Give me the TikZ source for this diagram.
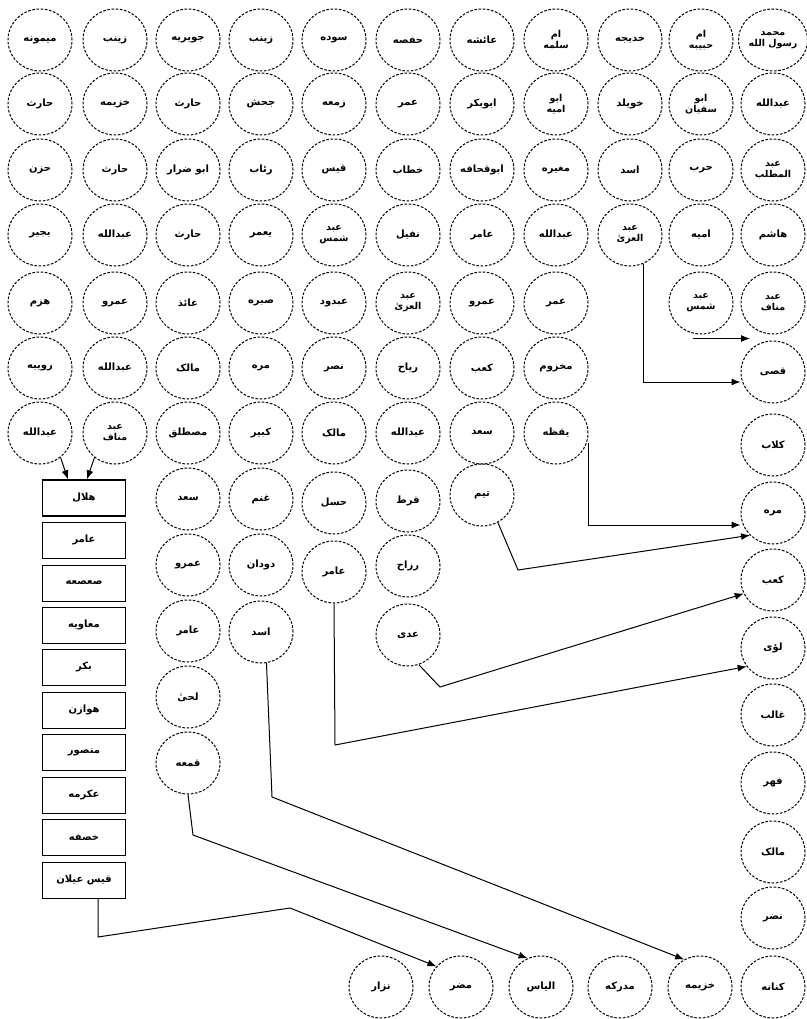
\documentclass[tikz,border=0pt]{standalone}
\usepackage{fontspec}
\newfontfamily\arabicfont[Script=Arabic]{DejaVu Sans}
\TeXXeTstate=1
\usetikzlibrary{shapes.geometric,arrows.meta}
\newcommand{\ur}[1]{{\arabicfont\bfseries\beginR #1\endR}}
\begin{document}
\begin{tikzpicture}[x=1pt,y=-1pt,
  circ/.style={ellipse,draw,dash pattern=on 2.6pt off 1.6pt,line width=1pt,minimum width=64pt,minimum height=62pt,inner sep=0pt,align=center,font=\fontsize{10}{11}\selectfont},
  twol/.style={font=\fontsize{9.5}{11}\selectfont},
  box/.style={rectangle,draw,line width=1pt,minimum width=83pt,minimum height=36pt,inner sep=0pt,font=\fontsize{10}{11}\selectfont},
  arr/.style={line width=1pt,-{Latex[length=9pt,width=7pt]}},
]
\useasboundingbox (0,0) rectangle (806,1019);
\fill[white] (0,0) rectangle (806,1019);
% row 1
\node[circ,twol] (r1c11) at (773,40) {\ur{محمد}\\\ur{رسول الله}};
\node[circ,twol] (r1c10) at (701,40) {\ur{ام}\\\ur{حبیبه}};
\node[circ] (r1c9) at (630,40) {\ur{خدیجه}};
\node[circ,twol] (r1c8) at (556,40) {\ur{ام}\\\ur{سلمه}};
\node[circ] (r1c7) at (482,40) {\ur{عائشه}};
\node[circ] (r1c6) at (408,40) {\ur{حفصه}};
\node[circ] (r1c5) at (334,40) {\ur{سوده}};
\node[circ] (r1c4) at (261,40) {\ur{زینب}};
\node[circ] (r1c3) at (188,40) {\ur{جویریه}};
\node[circ] (r1c2) at (115,40) {\ur{زینب}};
\node[circ] (r1c1) at (40,40) {\ur{میمونه}};
% row 2
\node[circ] (r2c11) at (773,104) {\ur{عبدالله}};
\node[circ,twol] (r2c10) at (701,104) {\ur{ابو}\\\ur{سفیان}};
\node[circ] (r2c9) at (630,104) {\ur{خویلد}};
\node[circ,twol] (r2c8) at (556,104) {\ur{ابو}\\\ur{امیه}};
\node[circ] (r2c7) at (482,104) {\ur{ابوبکر}};
\node[circ] (r2c6) at (408,104) {\ur{عمر}};
\node[circ] (r2c5) at (334,104) {\ur{زمعه}};
\node[circ] (r2c4) at (261,104) {\ur{جحش}};
\node[circ] (r2c3) at (188,104) {\ur{حارث}};
\node[circ] (r2c2) at (115,104) {\ur{خزیمه}};
\node[circ] (r2c1) at (40,104) {\ur{حارث}};
% row 3
\node[circ,twol] (r3c11) at (773,170) {\ur{عبد}\\\ur{المطلب}};
\node[circ] (r3c10) at (701,170) {\ur{حرب}};
\node[circ] (r3c9) at (630,170) {\ur{اسد}};
\node[circ] (r3c8) at (556,170) {\ur{مغیره}};
\node[circ] (r3c7) at (482,170) {\ur{ابوقحافه}};
\node[circ] (r3c6) at (408,170) {\ur{خطاب}};
\node[circ] (r3c5) at (334,170) {\ur{قیس}};
\node[circ] (r3c4) at (261,170) {\ur{رئاب}};
\node[circ] (r3c3) at (188,170) {\ur{ابو ضرار}};
\node[circ] (r3c2) at (115,170) {\ur{حارث}};
\node[circ] (r3c1) at (40,170) {\ur{حزن}};
% row 4
\node[circ] (r4c11) at (773,235) {\ur{هاشم}};
\node[circ] (r4c10) at (701,235) {\ur{امیه}};
\node[circ,twol] (r4c9) at (630,235) {\ur{عبد}\\\ur{العزیٰ}};
\node[circ] (r4c8) at (556,235) {\ur{عبدالله}};
\node[circ] (r4c7) at (482,235) {\ur{عامر}};
\node[circ] (r4c6) at (408,235) {\ur{نفیل}};
\node[circ,twol] (r4c5) at (334,235) {\ur{عبد}\\\ur{شمس}};
\node[circ] (r4c4) at (261,235) {\ur{یعمر}};
\node[circ] (r4c3) at (188,235) {\ur{حارث}};
\node[circ] (r4c2) at (115,235) {\ur{عبدالله}};
\node[circ] (r4c1) at (40,235) {\ur{بجیر}};
% row 5
\node[circ,twol] (r5c11) at (773,303) {\ur{عبد}\\\ur{مناف}};
\node[circ,twol] (r5c10) at (701,303) {\ur{عبد}\\\ur{شمس}};
\node[circ] (r5c8) at (556,303) {\ur{عمر}};
\node[circ] (r5c7) at (482,303) {\ur{عمرو}};
\node[circ,twol] (r5c6) at (408,303) {\ur{عبد}\\\ur{العزیٰ}};
\node[circ] (r5c5) at (334,303) {\ur{عبدود}};
\node[circ] (r5c4) at (261,303) {\ur{صبره}};
\node[circ] (r5c3) at (188,303) {\ur{عائذ}};
\node[circ] (r5c2) at (115,303) {\ur{عمرو}};
\node[circ] (r5c1) at (40,303) {\ur{هزم}};
% row 6
\node[circ] (qusay) at (773,372) {\ur{قصی}};
\node[circ] (r6c8) at (556,368) {\ur{مخزوم}};
\node[circ] (r6c7) at (482,368) {\ur{کعب}};
\node[circ] (r6c6) at (408,368) {\ur{ریاح}};
\node[circ] (r6c5) at (334,368) {\ur{نصر}};
\node[circ] (r6c4) at (261,368) {\ur{مره}};
\node[circ] (r6c3) at (188,368) {\ur{مالک}};
\node[circ] (r6c2) at (115,368) {\ur{عبدالله}};
\node[circ] (r6c1) at (40,368) {\ur{رویبه}};
% row 7
\node[circ] (kilab) at (773,445) {\ur{کلاب}};
\node[circ] (r7c8) at (556,433) {\ur{یقظه}};
\node[circ] (r7c7) at (482,433) {\ur{سعد}};
\node[circ] (r7c6) at (408,433) {\ur{عبدالله}};
\node[circ] (r7c5) at (334,433) {\ur{مالک}};
\node[circ] (r7c4) at (261,433) {\ur{کبیر}};
\node[circ] (r7c3) at (188,433) {\ur{مصطلق}};
\node[circ,twol] (r7c2) at (115,433) {\ur{عبد}\\\ur{مناف}};
\node[circ] (r7c1) at (40,433) {\ur{عبدالله}};
% row 8
\node[circ] (murra) at (773,513) {\ur{مره}};
\node[circ] (r8c7) at (482,495) {\ur{تیم}};
\node[circ] (r8c6) at (408,501) {\ur{قرط}};
\node[circ] (r8c5) at (334,503) {\ur{حسل}};
\node[circ] (r8c4) at (261,499) {\ur{غنم}};
\node[circ] (r8c3) at (188,499) {\ur{سعد}};
% row 9
\node[circ] (kaab) at (773,580) {\ur{کعب}};
\node[circ] (r9c6) at (408,566) {\ur{رزاح}};
\node[circ] (r9c5) at (334,572) {\ur{عامر}};
\node[circ] (r9c4) at (261,565) {\ur{دودان}};
\node[circ] (r9c3) at (188,565) {\ur{عمرو}};
% row 10
\node[circ] (luayy) at (773,648) {\ur{لؤی}};
\node[circ] (r10c6) at (408,635) {\ur{عدی}};
\node[circ] (r10c4) at (261,632) {\ur{اسد}};
\node[circ] (r10c3) at (188,631) {\ur{عامر}};
% lower
\node[circ] (ghalib) at (773,715) {\ur{غالب}};
\node[circ] (r11c3) at (188,697) {\ur{لحیٰ}};
\node[circ] (fihr) at (773,783) {\ur{فهر}};
\node[circ] (r12c3) at (188,763) {\ur{قمعه}};
\node[circ] (malik) at (773,852) {\ur{مالک}};
\node[circ] (nadr) at (773,918) {\ur{نضر}};
\node[circ] (kinana) at (773,987) {\ur{کنانه}};
\node[circ] (khuz) at (700,987) {\ur{خزیمه}};
\node[circ] (mudrika) at (620,987) {\ur{مدرکه}};
\node[circ] (ilyas) at (541,987) {\ur{الیاس}};
\node[circ] (mudar) at (461,987) {\ur{مضر}};
\node[circ] (nizar) at (381,987) {\ur{نزار}};
% boxes
\node[box,line width=1.4pt] (hilal) at (84,498) {\ur{هلال}};
\node[box] (bx2) at (84,540) {\ur{عامر}};
\node[box] (bx3) at (84,583) {\ur{صعصعه}};
\node[box] (bx4) at (84,625) {\ur{معاویه}};
\node[box] (bx5) at (84,667) {\ur{بکر}};
\node[box] (bx6) at (84,710) {\ur{هوازن}};
\node[box] (bx7) at (84,752) {\ur{منصور}};
\node[box] (bx8) at (84,795) {\ur{عکرمه}};
\node[box] (bx9) at (84,837) {\ur{خصفه}};
\node[box] (qays) at (84,880) {\ur{قیس عیلان}};
% connectors
\draw[arr] ([xshift=-8pt,yshift=-4pt]r5c10.south) -- ([yshift=-4pt]r5c10.south -| r5c11.south west);
\draw[arr] (r4c9.-65) |- ([yshift=-10pt]qusay.west);
\draw[arr] ([yshift=-10pt]r7c8.east) |- ([yshift=-12pt]murra.west);
\coordinate (b1) at (518,570);
\draw[arr] (r8c7.-60) -- (b1) -- (murra.south west);
\coordinate (b2) at (440,687);
\draw[arr] (r10c6.-70) -- (b2) -- (kaab.205);
\coordinate (b3) at (335,745);
\draw[arr] (r9c5.south) -- (b3) -- (luayy.215);
\coordinate (b4) at (272,797);
\draw[arr] (r10c4.-80) -- (b4) -- (khuz.120);
\coordinate (b7) at (193,835);
\draw[arr] (r12c3.south) -- (b7) -- (ilyas.115);
\coordinate (b5) at (98,937);
\coordinate (b6) at (290,908);
\draw[arr] ([xshift=14pt]qays.south) -- (b5) -- (b6) -- (mudar.140);
\draw[arr] (r7c1.-50) -- ([xshift=-16pt]hilal.north);
\draw[arr] (r7c2.-130) -- ([xshift=3pt]hilal.north);
\end{tikzpicture}
\end{document}
